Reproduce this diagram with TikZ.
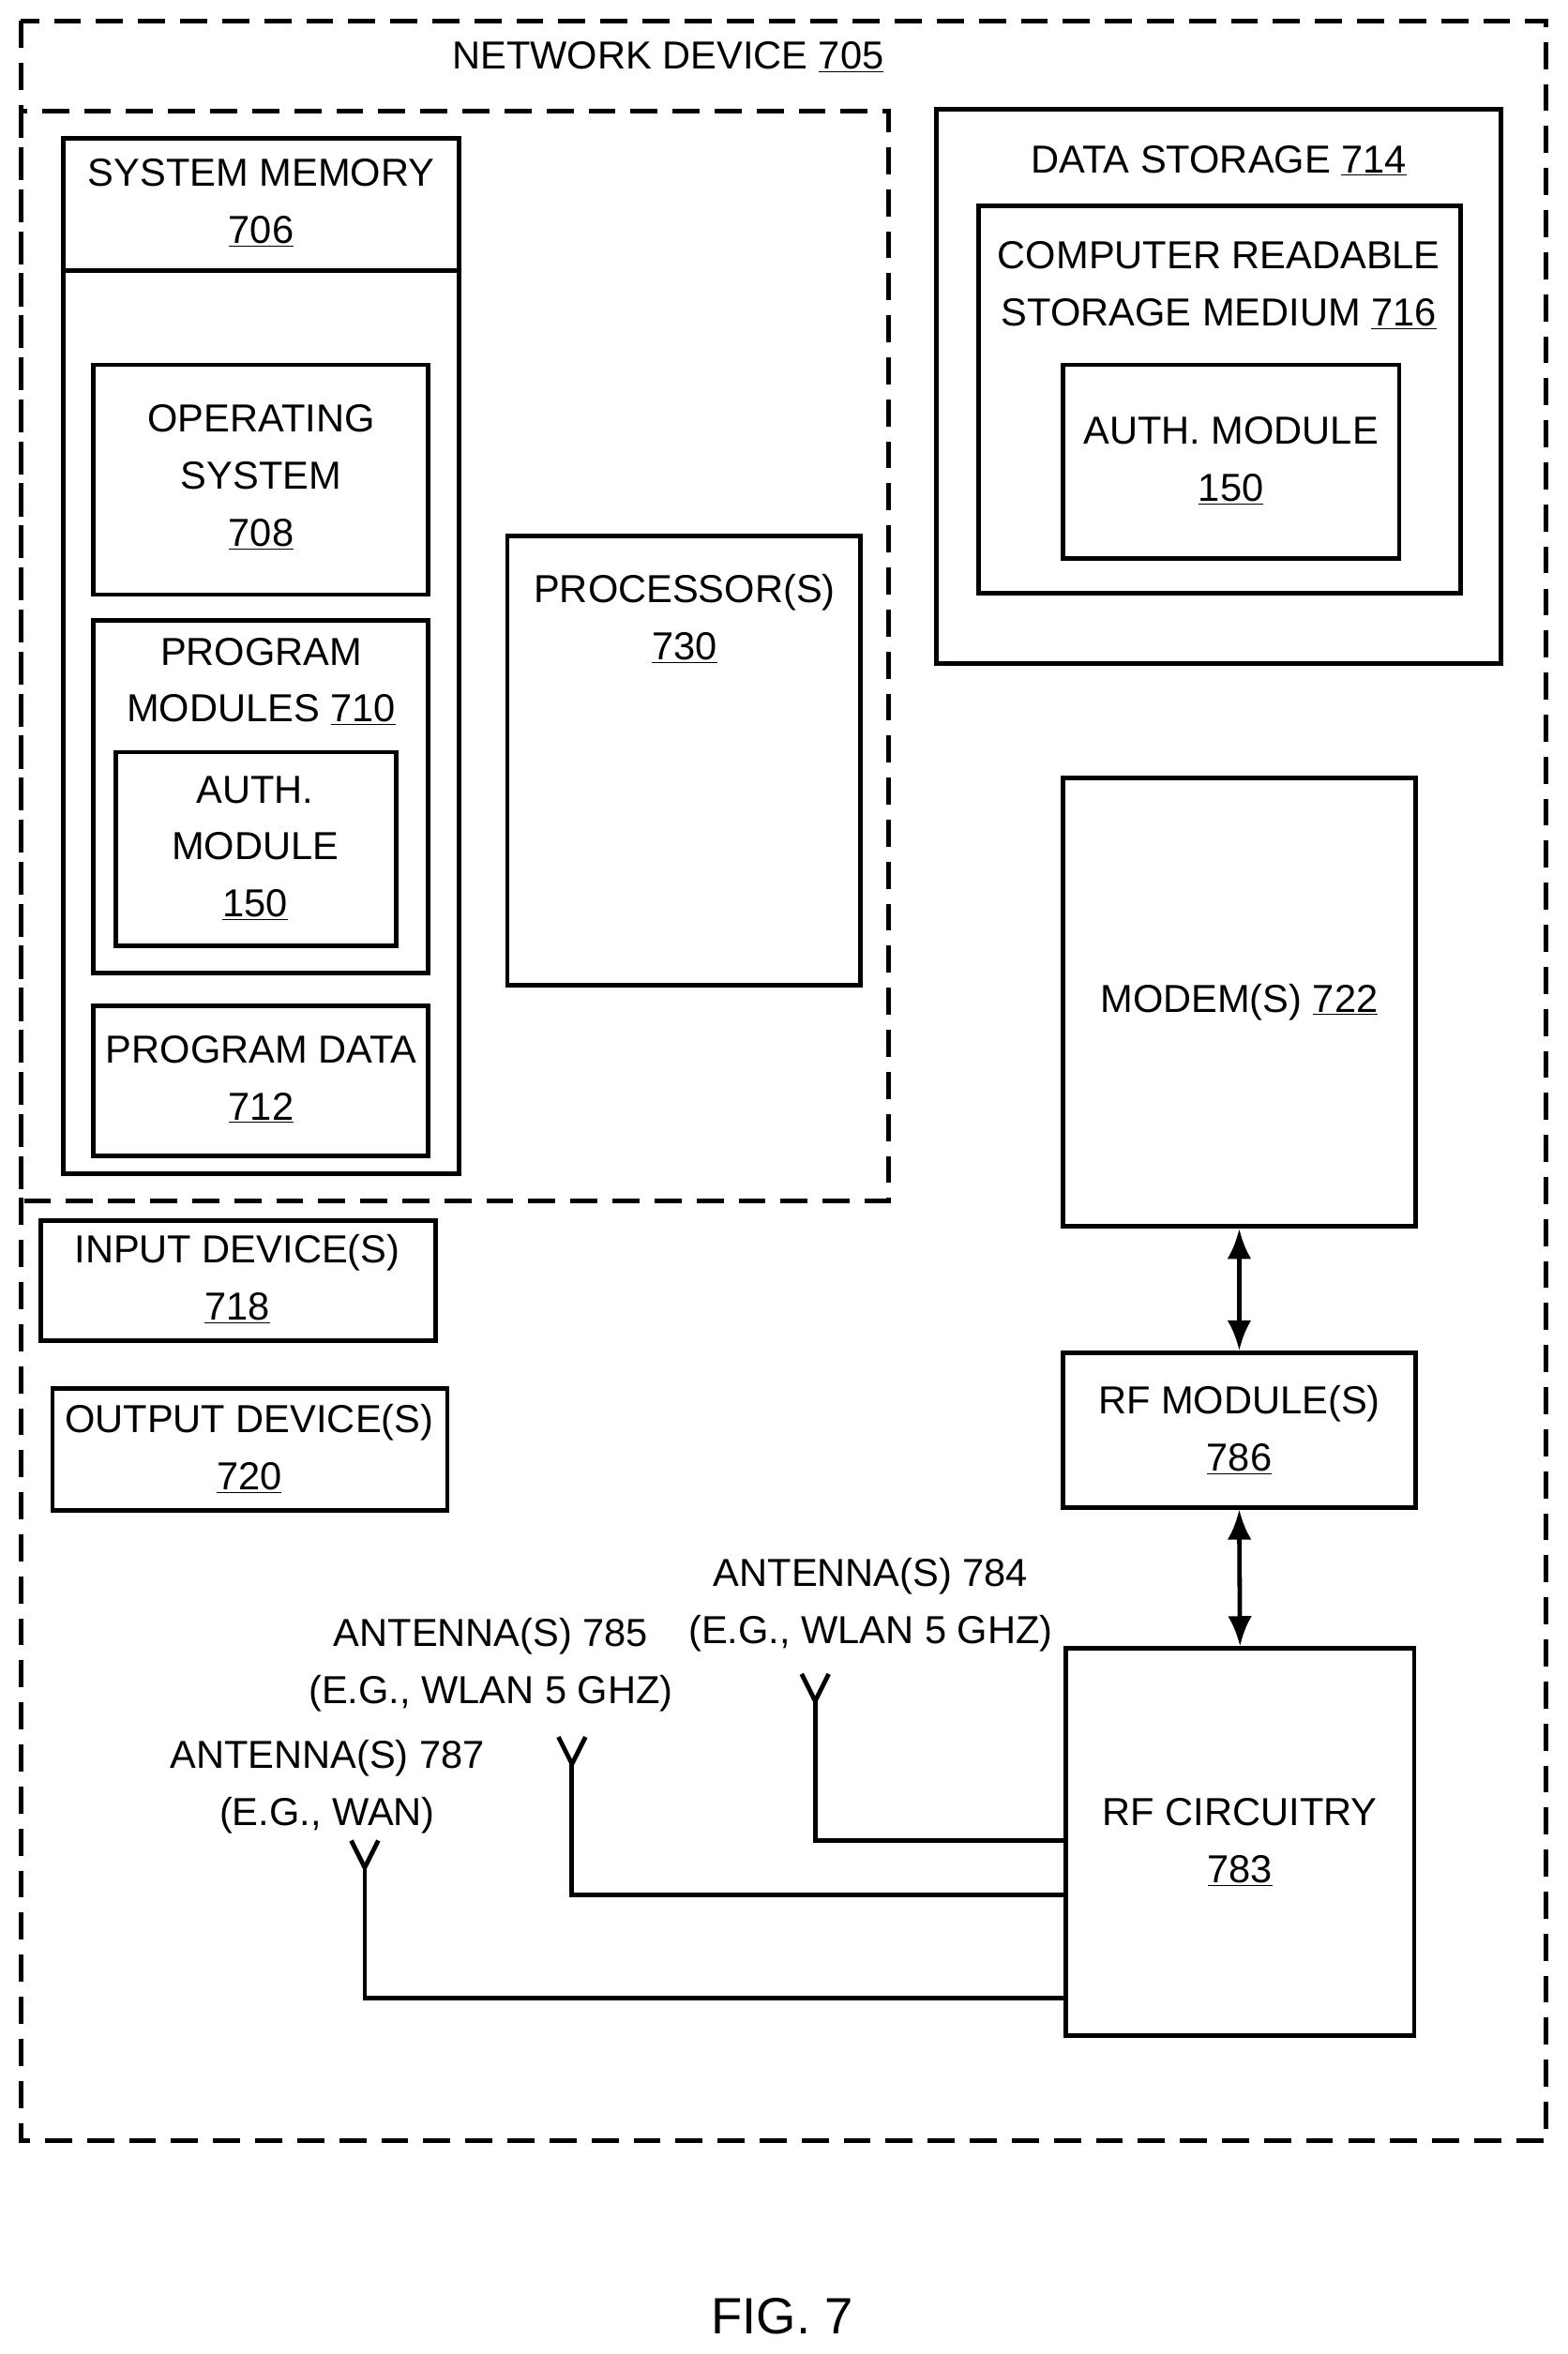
\documentclass[tikz,border=0pt]{standalone}
\usepackage{fontspec}
\setmainfont{Liberation Sans}
\usetikzlibrary{arrows.meta}
\begin{document}
\begin{tikzpicture}[x=1pt,y=-1pt,
 box/.style={draw,line width=3pt},
 dashbox/.style={draw,line width=3pt,dash pattern=on 18pt off 10pt},
 lbl/.style={align=center,font=\fontsize{26}{38}\selectfont,inner sep=0pt},
 conn/.style={line width=3pt},
 arr/.style={line width=3pt,<->,>={Latex[length=20pt,width=16pt]}}]
\useasboundingbox (0,0) rectangle (1044,1568);
\path[dashbox] (14,14) rectangle (1030,1426);
\node[lbl,fill=white,inner xsep=6pt] (t705) at (445,38) {NETWORK DEVICE \underline{705}};
\path[dashbox] (14,74) rectangle (592,800);
% system memory
\path[box] (42,92) rectangle (306,782);
\draw[conn] (42,180) -- (306,180);
\node[lbl] (sm) at (174,135) {SYSTEM MEMORY\\\underline{706}};
\path[box] (62,243) rectangle (285,396);
\node[lbl] (os) at (174,318) {OPERATING\\SYSTEM\\\underline{708}};
\path[box] (62,413) rectangle (285,648);
\node[lbl] (pm) at (174,454) {PROGRAM\\MODULES \underline{710}};
\path[box] (77,501) rectangle (264,630);
\node[lbl] (am1) at (170,565) {AUTH.\\MODULE\\\underline{150}};
\path[box] (62,670) rectangle (285,770);
\node[lbl] (pd) at (174,719) {PROGRAM DATA\\\underline{712}};
\path[box] (338,357) rectangle (573,656);
\node[lbl] (pr) at (456,412) {PROCESSOR(S)\\\underline{730}};
% storage
\path[box] (624,73) rectangle (1000,442);
\node[lbl] (ds) at (812,107) {DATA STORAGE \underline{714}};
\path[box] (652,137) rectangle (973,395);
\node[lbl] (cr) at (812,190) {COMPUTER READABLE\\STORAGE MEDIUM \underline{716}};
\path[box] (708,243) rectangle (932,372);
\node[lbl] (am2) at (820,307) {AUTH. MODULE\\\underline{150}};
% modem etc
\node[box,minimum width=235pt,minimum height=299pt,inner sep=0pt] (mod) at (825.5,667.5) {};
\node[lbl] at (mod) {MODEM(S) \underline{722}};
\node[box,minimum width=235pt,minimum height=103pt,inner sep=0pt] (rfm) at (825.5,952.5) {};
\node[lbl] at (rfm) {RF MODULE(S)\\\underline{786}};
\node[box,minimum width=232pt,minimum height=258pt,inner sep=0pt] (rfc) at (826,1227) {};
\node[lbl] at (rfc) {RF CIRCUITRY\\\underline{783}};
\draw[arr] (mod.south) -- (rfm.north);
\draw[arr] (rfm.south) -- (rfc.north);
% io
\path[box] (27,813) rectangle (290,893);
\node[lbl] (in) at (158,852) {INPUT DEVICE(S)\\\underline{718}};
\path[box] (35,925) rectangle (298,1006);
\node[lbl] (out) at (166,965) {OUTPUT DEVICE(S)\\\underline{720}};
% antennas
\node[lbl] (l784) at (580,1069) {ANTENNA(S) 784\\(E.G., WLAN 5 GHZ)};
\node[lbl] (l785) at (327,1109) {ANTENNA(S) 785\\(E.G., WLAN 5 GHZ)};
\node[lbl] (l787) at (218,1190) {ANTENNA(S) 787\\(E.G., WAN)};
\coordinate (a784) at (543,1133);
\coordinate (a785) at (381,1175);
\coordinate (a787) at (243,1244);
\foreach \a in {a784,a785,a787}{
 \draw[conn,line join=miter] ([xshift=-9pt,yshift=18pt]\a) -- (\a) -- ([xshift=9pt,yshift=18pt]\a);
}
\draw[conn] (a784) |- (rfc.west |- 0,1226);
\draw[conn] (a785) |- (rfc.west |- 0,1262);
\draw[conn] (a787) |- (rfc.west |- 0,1331);
\node[lbl,font=\fontsize{34}{40}\selectfont] (fig) at (521,1543) {FIG. 7};
\end{tikzpicture}
\end{document}
